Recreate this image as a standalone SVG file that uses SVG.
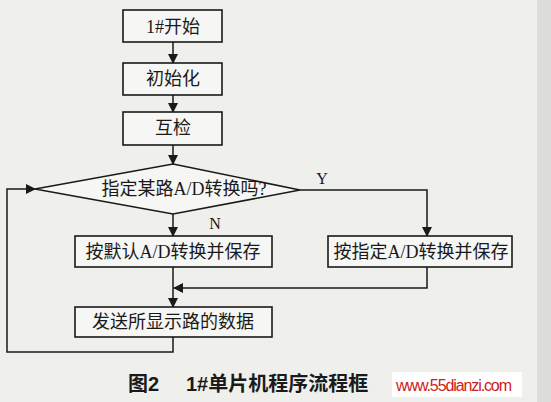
<svg xmlns="http://www.w3.org/2000/svg" width="551" height="402" viewBox="0 0 551 402">
<style>
.box{fill:#f6f6f4;stroke:#1a1a1a;stroke-width:1.6}
.ln{fill:none;stroke:#1a1a1a;stroke-width:1.5}
.t{font-family:"Liberation Serif","Noto Sans CJK SC",serif;font-size:18px;fill:#1a1a1a;text-anchor:middle;dominant-baseline:central}
.lbl{font-family:"Liberation Serif",serif;font-size:16px;fill:#1a1a1a;text-anchor:middle}
.cap{font-family:"Liberation Sans","Noto Sans CJK SC",sans-serif;font-size:20px;font-weight:bold;fill:#1a1a1a}
</style>
<defs>
<marker id="ah" markerWidth="10" markerHeight="10" refX="9" refY="5" orient="auto" markerUnits="userSpaceOnUse">
<path d="M0,0 L10,5 L0,10 Z" fill="#1a1a1a"/>
</marker>
</defs>
<rect width="551" height="402" fill="#efefec"/>
<rect x="537" y="0" width="14" height="402" fill="#dcdcd8"/>
<g id="connectors">
<line class="ln" x1="173" y1="42" x2="173" y2="63" marker-end="url(#ah)"/>
<line class="ln" x1="173" y1="95" x2="173" y2="112" marker-end="url(#ah)"/>
<line class="ln" x1="173" y1="145" x2="173" y2="164" marker-end="url(#ah)"/>
<polyline class="ln" points="300,190 427,190 427,236" marker-end="url(#ah)"/>
<line class="ln" x1="173" y1="214" x2="173" y2="236" marker-end="url(#ah)"/>
<polyline class="ln" points="427,267 427,288 174,288" marker-end="url(#ah)"/>
<line class="ln" x1="173" y1="267" x2="173" y2="307" marker-end="url(#ah)"/>
<polyline class="ln" points="173,337 173,352 7,352 7,189 35,189" marker-end="url(#ah)"/>
<text class="lbl" x="322" y="184">Y</text>
<text class="lbl" x="215" y="229">N</text>
</g>
<g id="start"><rect class="box" x="123" y="10" width="99" height="32"/><text class="t" x="173" y="27">1#开始</text></g>
<g id="init"><rect class="box" x="123" y="63" width="99" height="32"/><text class="t" x="173" y="79">初始化</text></g>
<g id="check"><rect class="box" x="123" y="112" width="99" height="33"/><text class="t" x="173" y="128">互检</text></g>
<g id="decision"><polygon class="box" points="173,164 300,190 173,214 35,189"/><text class="t" x="184" y="189" font-size="19">指定某路A/D转换吗?</text></g>
<g id="default"><rect class="box" x="75" y="236" width="197" height="31"/><text class="t" x="173" y="252">按默认A/D转换并保存</text></g>
<g id="specified"><rect class="box" x="328" y="236" width="184" height="31"/><text class="t" x="421" y="252">按指定A/D转换并保存</text></g>
<g id="send"><rect class="box" x="75" y="307" width="197" height="30"/><text class="t" x="173" y="322">发送所显示路的数据</text></g>
<text class="cap" x="128" y="391">图2</text>
<text class="cap" x="186" y="391">1#单片机程序流程框</text>
<rect x="392" y="372" width="130" height="25" fill="#ffffff"/>
<text x="396" y="391" font-family="Liberation Sans,sans-serif" font-size="16" fill="#d02020" textLength="116">www.55dianzi.com</text>
</svg>
